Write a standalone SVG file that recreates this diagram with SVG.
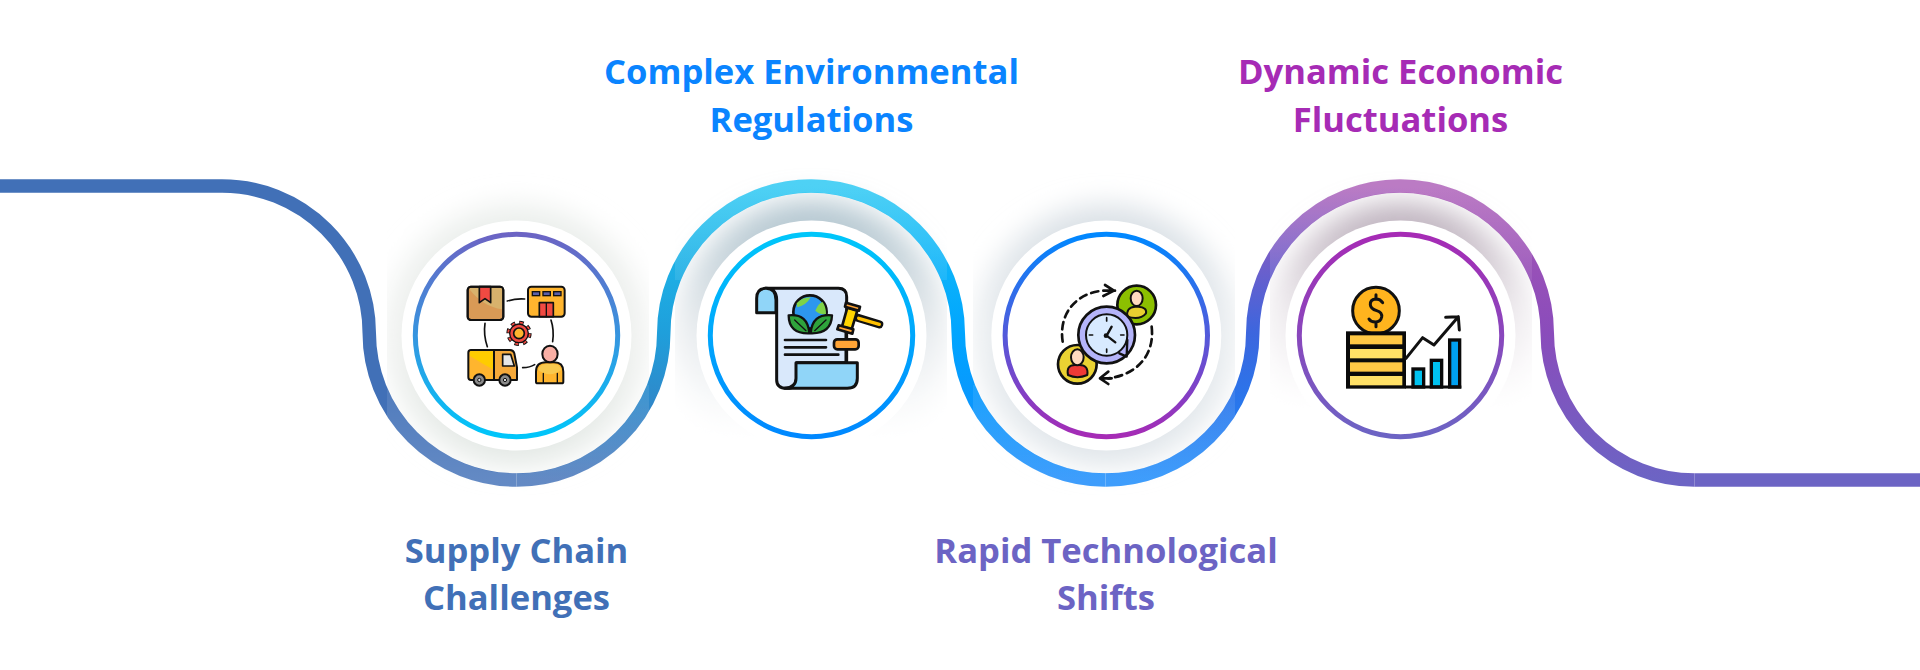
<svg xmlns="http://www.w3.org/2000/svg" width="1920" height="670" viewBox="0 0 1920 670">
<style>
.t{font-family:"Open Sans","Noto Sans",sans-serif;font-weight:700;font-size:34.6px;text-anchor:middle}
.w{fill:none;stroke-width:13.5}
.wo{fill:none;stroke-width:13.5}
.halo{fill:#fff}
.ring{fill:#fff;stroke-width:5}
.k{stroke:#111;stroke-linejoin:round;stroke-linecap:round}
.l{fill:none;stroke:#111;stroke-linecap:round;stroke-linejoin:round}
</style>
<defs>
<filter id="b" x="-30%" y="-30%" width="160%" height="160%"><feGaussianBlur stdDeviation="14"/></filter>
<clipPath id="c1"><rect x="387" y="150" width="262" height="345"/></clipPath>
<clipPath id="c2"><rect x="675" y="150" width="272" height="293"/></clipPath>
<clipPath id="c3"><rect x="973" y="150" width="262" height="345"/></clipPath>
<clipPath id="c4"><rect x="1270" y="150" width="262" height="293"/></clipPath>
<clipPath id="o1"><rect x="387" y="385" width="262" height="110"/></clipPath>
<clipPath id="o2"><rect x="675" y="170" width="272" height="110"/></clipPath>
<clipPath id="o3"><rect x="973" y="385" width="262" height="110"/></clipPath>
<clipPath id="o4"><rect x="1270" y="170" width="262" height="110"/></clipPath>
<linearGradient id="ov" gradientUnits="userSpaceOnUse" x1="0" y1="385" x2="0" y2="480"><stop offset="0" stop-color="#fff" stop-opacity=".08"/><stop offset="1" stop-color="#fff" stop-opacity=".18"/></linearGradient>
<linearGradient id="ovt" gradientUnits="userSpaceOnUse" x1="0" y1="186" x2="0" y2="280"><stop offset="0" stop-color="#fff" stop-opacity=".22"/><stop offset="1" stop-color="#fff" stop-opacity=".08"/></linearGradient>
<linearGradient id="s1" gradientUnits="userSpaceOnUse" x1="0" y1="333" x2="0" y2="480"><stop offset="0" stop-color="#1f9fdb"/><stop offset="1" stop-color="#4170b7"/></linearGradient>
<linearGradient id="s2l" gradientUnits="userSpaceOnUse" x1="0" y1="186" x2="0" y2="333"><stop offset="0" stop-color="#1cc4f2"/><stop offset="1" stop-color="#1f9fdb"/></linearGradient>
<linearGradient id="s2r" gradientUnits="userSpaceOnUse" x1="0" y1="186" x2="0" y2="333"><stop offset="0" stop-color="#1cc4f2"/><stop offset="1" stop-color="#00a5ff"/></linearGradient>
<linearGradient id="s3l" gradientUnits="userSpaceOnUse" x1="0" y1="333" x2="0" y2="480"><stop offset="0" stop-color="#00a5ff"/><stop offset="1" stop-color="#1488fb"/></linearGradient>
<linearGradient id="s3r" gradientUnits="userSpaceOnUse" x1="0" y1="333" x2="0" y2="480"><stop offset="0" stop-color="#3c66de"/><stop offset="1" stop-color="#1488fb"/></linearGradient>
<linearGradient id="s4l" gradientUnits="userSpaceOnUse" x1="0" y1="186" x2="0" y2="333"><stop offset="0" stop-color="#a856b4"/><stop offset="1" stop-color="#3c66de"/></linearGradient>
<linearGradient id="s4r" gradientUnits="userSpaceOnUse" x1="0" y1="186" x2="0" y2="333"><stop offset="0" stop-color="#a856b4"/><stop offset="1" stop-color="#8a4cbb"/></linearGradient>
<linearGradient id="s5" gradientUnits="userSpaceOnUse" x1="0" y1="333" x2="0" y2="480"><stop offset="0" stop-color="#8a4cbb"/><stop offset="1" stop-color="#6c64c4"/></linearGradient>
<linearGradient id="r1" x1="0" y1="0" x2="0" y2="1"><stop offset="0" stop-color="#6c64c4"/><stop offset="1" stop-color="#00c6fa"/></linearGradient>
<linearGradient id="r2" x1="0" y1="0" x2="0" y2="1"><stop offset="0" stop-color="#00c6fa"/><stop offset="1" stop-color="#0088ff"/></linearGradient>
<linearGradient id="r3" x1="0" y1="0" x2="0" y2="1"><stop offset="0" stop-color="#0088ff"/><stop offset="1" stop-color="#a62bb5"/></linearGradient>
<linearGradient id="r4" x1="0" y1="0" x2="0" y2="1"><stop offset="0" stop-color="#a62bb5"/><stop offset="1" stop-color="#6c64c4"/></linearGradient>
<linearGradient id="sh2" gradientUnits="userSpaceOnUse" x1="0" y1="195" x2="0" y2="430"><stop offset="0" stop-color="#a9bfca"/><stop offset=".55" stop-color="#e6eaed"/><stop offset="1" stop-color="#fff"/></linearGradient>
<linearGradient id="sh4" gradientUnits="userSpaceOnUse" x1="0" y1="195" x2="0" y2="400"><stop offset="0" stop-color="#b0a2b0"/><stop offset=".55" stop-color="#ece8ec"/><stop offset="1" stop-color="#fff"/></linearGradient>
<linearGradient id="sh1" gradientUnits="userSpaceOnUse" x1="0" y1="195" x2="0" y2="480"><stop offset="0" stop-color="#eaeeeb"/><stop offset=".5" stop-color="#eef0ee"/><stop offset="1" stop-color="#e0e6e2"/></linearGradient>
<linearGradient id="sh3" gradientUnits="userSpaceOnUse" x1="0" y1="195" x2="0" y2="480"><stop offset="0" stop-color="#d6dde3"/><stop offset=".5" stop-color="#e8ecef"/><stop offset="1" stop-color="#dde3e8"/></linearGradient>
</defs>

<g id="shadows">
<circle cx="516.5" cy="335.5" r="130" fill="url(#sh1)" filter="url(#b)" clip-path="url(#c1)"/>
<circle cx="811.5" cy="335.5" r="135" fill="url(#sh2)" filter="url(#b)" clip-path="url(#c2)"/>
<circle cx="1106.3" cy="335.5" r="130" fill="url(#sh3)" filter="url(#b)" clip-path="url(#c3)"/>
<circle cx="1400.5" cy="335.5" r="132" fill="url(#sh4)" filter="url(#b)" clip-path="url(#c4)"/>
</g>

<g id="connectors">
<path class="w" stroke="#4170b7" d="M0 186H222A147.25 147.25 0 0 1 369.25 333A147.25 147.25 0 0 0 516.5 480"/>
<path class="w" stroke="url(#s1)" d="M516.5 480A147.25 147.25 0 0 0 663.75 333"/>
<path class="w" stroke="url(#s2l)" d="M663.75 333A147.25 147.25 0 0 1 811 186"/>
<path class="w" stroke="url(#s2r)" d="M811 186A147.25 147.25 0 0 1 958.25 333"/>
<path class="w" stroke="url(#s3l)" d="M958.25 333A147.25 147.25 0 0 0 1105.5 480"/>
<path class="w" stroke="url(#s3r)" d="M1105.5 480A147.25 147.25 0 0 0 1252.75 333"/>
<path class="w" stroke="url(#s4l)" d="M1252.75 333A147.25 147.25 0 0 1 1400 186"/>
<path class="w" stroke="url(#s4r)" d="M1400 186A147.25 147.25 0 0 1 1547.25 333"/>
<path class="w" stroke="url(#s5)" d="M1547.25 333A147.25 147.25 0 0 0 1694.5 480"/>
<path class="w" stroke="#6c64c4" d="M1694.5 480H1920"/>
<path class="wo" stroke="url(#ov)" clip-path="url(#o1)" d="M369.25 333A147.25 147.25 0 0 0 663.75 333"/>
<path class="wo" stroke="url(#ovt)" clip-path="url(#o2)" d="M663.75 333A147.25 147.25 0 0 1 958.25 333"/>
<path class="wo" stroke="url(#ov)" clip-path="url(#o3)" d="M958.25 333A147.25 147.25 0 0 0 1252.75 333"/>
<path class="wo" stroke="url(#ovt)" clip-path="url(#o4)" d="M1252.75 333A147.25 147.25 0 0 1 1547.25 333"/>
</g>

<g id="node-supply-chain">
<circle class="halo" cx="516.5" cy="335.5" r="115"/>
<circle class="ring" cx="516.5" cy="335.5" r="101.2" stroke="url(#r1)"/>
<g transform="translate(450 270) scale(.3333)">
<rect class="k" x="53" y="50" width="107" height="100" rx="10" fill="#d99a56" stroke-width="6"/>
<path d="M60 54H156V118Q100 110 60 60Z" fill="#d8b26c"/>
<path class="k" d="M88 50H122V98L105 86L88 98Z" fill="#f04a42" stroke-width="5"/>
<rect class="k" x="53" y="50" width="107" height="100" rx="10" fill="none" stroke-width="6"/>
<rect class="k" x="234" y="50" width="110" height="90" rx="10" fill="#ffb52e" stroke-width="6"/>
<rect x="247" y="65" width="22" height="12" fill="#5c5fa8" stroke="#111" stroke-width="4"/>
<rect x="279" y="65" width="22" height="12" fill="#5c5fa8" stroke="#111" stroke-width="4"/>
<rect x="311" y="65" width="22" height="12" fill="#5c5fa8" stroke="#111" stroke-width="4"/>
<rect class="k" x="268" y="98" width="42" height="42" fill="#f04a42" stroke-width="5"/>
<path class="l" stroke-width="4" d="M289 98V140"/>
<g stroke-width="5"><path class="l" d="M172 93Q198 85 224 87"/><path class="l" d="M105 160Q100 195 112 230"/><path class="l" d="M303 150Q313 180 308 215"/><path class="l" d="M218 293Q240 293 254 284"/></g>
<circle cx="207" cy="190" r="32" fill="none" stroke="#111" stroke-width="12" stroke-dasharray="13 12.1"/>
<circle cx="207" cy="190" r="32" fill="none" stroke="#f04a42" stroke-width="6" stroke-dasharray="9 16.1" stroke-dashoffset="-2"/>
<circle cx="207" cy="190" r="28" fill="#f04a42" stroke="#111" stroke-width="4"/>
<circle cx="207" cy="190" r="16" fill="#ffb52e" stroke="#111" stroke-width="5"/>
<rect class="k" x="55" y="240" width="100" height="90" rx="8" fill="#ffb52e" stroke-width="6"/>
<path d="M60 244H132V300Q95 280 60 258Z" fill="#ffcc00"/>
<path class="k" d="M132 240H180Q190 240 193 250L201 292V330H132Z" fill="#f5a93a" stroke-width="6"/>
<path class="k" d="M158 253H182L193 288H158Z" fill="#e6e6e6" stroke-width="5"/>
<circle cx="88" cy="330" r="17" fill="#8a8a8a" stroke="#111" stroke-width="6"/><circle cx="88" cy="330" r="5" fill="#ddd" stroke="#111" stroke-width="3"/>
<circle cx="165" cy="330" r="17" fill="#8a8a8a" stroke="#111" stroke-width="6"/><circle cx="165" cy="330" r="5" fill="#ddd" stroke="#111" stroke-width="3"/>
<path class="k" d="M258 335V305Q258 277 288 277H312Q340 277 340 305V335Q340 340 335 340H263Q258 340 258 335Z" fill="#ffb52e" stroke-width="6"/>
<path d="M264 300Q270 282 290 282H310Q330 282 334 300Q300 325 264 300Z" fill="#f8c94f"/>
<path class="l" stroke-width="4" d="M280 310V338M322 310V338"/>
<ellipse class="k" cx="300" cy="252" rx="23" ry="25" fill="#f9afa5" stroke-width="6"/>
</g>
</g>

<g id="node-environmental">
<circle class="halo" cx="811.5" cy="335.5" r="115"/>
<circle class="ring" cx="811.5" cy="335.5" r="101.2" stroke="url(#r2)"/>
<g transform="translate(740 270) scale(.3333)">
<path class="k" stroke-width="9" fill="#d9e8fb" d="M75 55H295Q320 55 320 80V278H170V330Q170 355 140 355Q110 355 110 330V90Q110 55 75 55Z"/>
<path class="k" stroke-width="9" fill="#90d5f8" d="M50 128V85Q50 55 78 55Q108 55 108 90V128Z"/>
<path class="k" stroke-width="9" fill="#90d5f8" d="M168 278H352V325Q352 355 322 355H135Q168 352 168 325Z"/>
<circle cx="210" cy="126" r="50" fill="#2d97ee" stroke="#111" stroke-width="8"/>
<path d="M170 100Q185 82 212 82Q200 105 172 112ZM226 122Q235 100 248 96Q258 112 258 132Q240 135 226 122Z" fill="#7ed348"/>
<path class="k" stroke-width="7" fill="#2fa33c" d="M208 190Q146 192 146 136Q204 130 208 190Z"/>
<path class="k" stroke-width="7" fill="#2fa33c" d="M212 190Q274 192 276 136Q216 130 212 190Z"/>
<path class="l" stroke-width="4" d="M164 150L198 182M258 150L224 182"/>
<path class="l" stroke-width="8" d="M135 210H258M135 232H258M135 254H295"/>
<path class="l" stroke-width="9" d="M318 185V275"/>
<rect class="k" x="282" y="208" width="74" height="30" rx="10" fill="#ffa436" stroke-width="8"/>
<path class="l" stroke-width="24" d="M352 143L418 163"/>
<path fill="none" stroke="#ffc000" stroke-linecap="round" stroke-width="10" d="M356 145L418 163"/>
<path class="k" stroke-width="8" fill="#ffd400" d="M322 113L352 122L335 178L306 170Z"/>
<path class="k" stroke-width="8" fill="#ffa436" d="M318 98L360 110L357 122L315 110ZM296 166L340 178L337 191L292 178Z"/>
</g>
</g>

<g id="node-technological">
<circle class="halo" cx="1106.3" cy="335.5" r="115"/>
<circle class="ring" cx="1106.3" cy="335.5" r="101.2" stroke="url(#r3)"/>
<g transform="translate(1040 270) scale(.3333)">
<circle cx="290" cy="105" r="58" fill="#8cc000" stroke="#111" stroke-width="8"/>
<path class="k" stroke-width="6" fill="#e8cf30" d="M262 140Q258 112 285 110H295Q322 112 318 130Q300 152 262 140Z"/>
<ellipse class="k" cx="290" cy="85" rx="18" ry="23" fill="#ffdabf" stroke-width="6"/>
<circle cx="112" cy="283" r="58" fill="#ead232" stroke="#111" stroke-width="8"/>
<path class="k" stroke-width="6" fill="#ee3a36" d="M84 315Q78 285 105 285H119Q146 285 142 315Q112 328 84 315Z"/>
<ellipse class="k" cx="112" cy="262" rx="19" ry="24" fill="#ffdabf" stroke-width="6"/>
<circle cx="200" cy="195" r="85" fill="#b4b4fa" stroke="#111" stroke-width="8"/>
<circle cx="200" cy="195" r="62" fill="#d8eaff" stroke="#111" stroke-width="6"/>
<path class="l" stroke-width="5" d="M200 143V153M200 237V247M148 195H158M242 195H252"/>
<path class="l" stroke-width="7" d="M200 197L215 170M200 197L226 217"/>
<circle cx="198" cy="197" r="7" fill="#111"/>
<path class="l" stroke-width="8" stroke-dasharray="22 15" d="M68 215C55 130 110 68 190 62"/>
<path class="l" stroke-width="8" d="M195 45L222 62L190 78M225 62H190"/>
<path class="l" stroke-width="8" stroke-dasharray="22 15" d="M335 170C345 255 290 315 205 325"/>
<path class="l" stroke-width="8" d="M205 305L180 325L205 342M180 325H215"/>
<path class="l" stroke-width="7" d="M262 210L260 260L238 250"/>
</g>
</g>

<g id="node-economic">
<circle class="halo" cx="1400.5" cy="335.5" r="115"/>
<circle class="ring" cx="1400.5" cy="335.5" r="101.2" stroke="url(#r4)"/>
<g transform="translate(1330 270) scale(.3333)">
<circle cx="138" cy="122" r="70" fill="#ffb41e" stroke="#111" stroke-width="9"/>
<path class="l" stroke-width="9" d="M158 98Q150 86 136 87Q120 89 121 104Q122 117 140 122Q157 127 155 141Q152 156 136 156Q122 156 117 147M138 74V88M138 156V170"/>
<rect x="48" y="184" width="180" height="172" fill="#0a0a0a"/>
<rect x="60" y="196" width="157" height="27" fill="#ffc845"/>
<rect x="60" y="237" width="157" height="28" fill="#ffe066"/>
<rect x="60" y="277" width="157" height="28" fill="#ffc845"/>
<rect x="60" y="318" width="157" height="28" fill="#ffe066"/>
<path class="l" stroke-width="9" d="M228 265L278 203L312 225L385 140M347 142L385 140L388 180"/>
<rect x="249" y="297" width="32" height="54" fill="#00c2f0" stroke="#0a0a0a" stroke-width="10"/>
<rect x="304" y="271" width="31" height="80" fill="#00c2f0" stroke="#0a0a0a" stroke-width="10"/>
<rect x="359" y="210" width="30" height="141" fill="#00a0f0" stroke="#0a0a0a" stroke-width="10"/>
<path d="M226 351H394" stroke="#0a0a0a" stroke-width="9"/>
</g>
</g>

<g id="labels">
<text class="t" fill="#4170b7" x="516.5" y="562.5">Supply Chain</text>
<text class="t" fill="#4170b7" x="516.5" y="609.5">Challenges</text>
<text class="t" fill="#0a84ff" x="811.5" y="84">Complex Environmental</text>
<text class="t" fill="#0a84ff" x="811.5" y="132">Regulations</text>
<text class="t" fill="#6c64c4" x="1106" y="562.5">Rapid Technological</text>
<text class="t" fill="#6c64c4" x="1106" y="609.5">Shifts</text>
<text class="t" fill="#a62bb5" x="1400.5" y="84">Dynamic Economic</text>
<text class="t" fill="#a62bb5" x="1400.5" y="132">Fluctuations</text>
</g>
</svg>
